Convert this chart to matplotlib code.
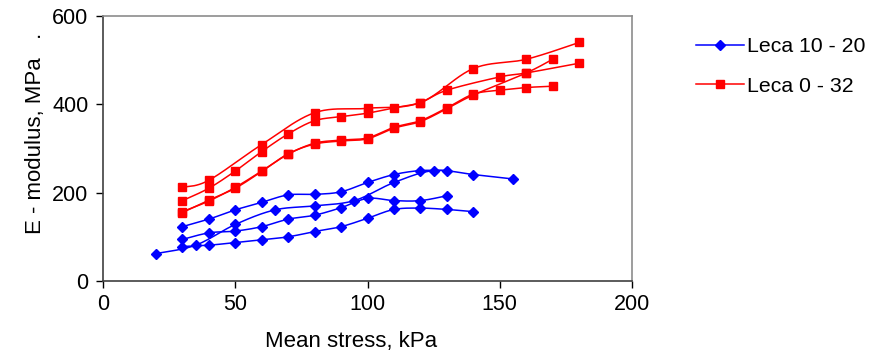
import numpy as np
import matplotlib
matplotlib.use("Agg")
import matplotlib.pyplot as plt
from matplotlib.lines import Line2D

# ---------------- data ----------------
# Leca 10 - 20 (blue)
b1_x = [30, 40, 50, 60, 70, 80, 90, 100, 110, 120, 130]
b1_y = [123, 140, 161, 178, 195, 196, 202, 223, 241, 250, 250]
b2_x = [20, 35, 50, 65, 80, 95, 110, 125, 140, 155]
b2_y = [62, 81, 128, 161, 170, 182, 223, 250, 241, 231]
b3_x = [30, 40, 50, 60, 70, 80, 90, 100, 110, 120, 130]
b3_y = [94, 109, 113, 123, 140, 149, 166, 187, 182, 182, 193]
b4_x = [30, 40, 50, 60, 70, 80, 90, 100, 110, 120, 130, 140]
b4_y = [78, 81, 87, 93, 100, 112, 123, 142, 162, 165, 162, 157]

# Leca 0 - 32 (red)
r1_x = [30, 40, 60, 80, 100, 120, 140, 160, 180]
r1_y = [212, 228, 309, 381, 391, 404, 481, 502, 540]
r2_x = [30, 40, 50, 60, 70, 80, 90, 100, 110, 120, 130, 150, 160, 180]
r2_y = [182, 210, 249, 293, 333, 363, 372, 380, 392, 404, 432, 462, 471, 493]
r3_x = [30, 40, 50, 60, 70, 80, 90, 100, 110, 120, 130, 140, 150, 160, 170]
r3_y = [157, 181, 212, 249, 287, 312, 319, 324, 348, 363, 392, 423, 432, 438, 441]
r4_x = [30, 40, 50, 60, 70, 80, 90, 100, 110, 120, 130, 140, 160, 170]
r4_y = [155, 183, 210, 248, 288, 310, 317, 322, 346, 361, 390, 421, 471, 502]

blue_series = [(b1_x, b1_y), (b2_x, b2_y), (b3_x, b3_y), (b4_x, b4_y)]
red_series = [(r1_x, r1_y), (r2_x, r2_y), (r3_x, r3_y), (r4_x, r4_y)]

labels = ["Leca 10 - 20", "Leca 0 - 32"]
x_ticks = [0, 50, 100, 150, 200]
y_ticks = [0, 200, 400, 600]

BLUE = "#0000FF"
RED = "#FF0000"

plt.rcParams['font.family'] = ['Liberation Sans', 'DejaVu Sans']


def smooth(x, y, n=24):
    """Excel-like smoothed line (Catmull-Rom Bezier) through the data points."""
    p = np.column_stack([np.asarray(x, float), np.asarray(y, float)])
    P = np.vstack([p[0], p, p[-1]])
    out = []
    t = np.linspace(0, 1, n)[:, None]
    for i in range(1, len(P) - 2):
        p0, p1, p2, p3 = P[i - 1], P[i], P[i + 1], P[i + 2]
        c1 = p1 + (p2 - p0) / 6.0
        c2 = p2 - (p3 - p1) / 6.0
        seg = ((1 - t) ** 3) * p1 + 3 * ((1 - t) ** 2) * t * c1 + 3 * (1 - t) * t ** 2 * c2 + t ** 3 * p2
        out.append(seg if i == 1 else seg[1:])
    s = np.vstack(out)
    return s[:, 0], s[:, 1]


fig = plt.figure(figsize=(8.71, 3.53), dpi=100)
ax = fig.add_axes([0.1183, 0.204, 0.6073, 0.7507])

for xs, ys in red_series:
    sx, sy = smooth(xs, ys)
    ax.plot(sx, sy, color=RED, lw=1.1, zorder=2)
    ax.plot(xs, ys, ls='none', marker='s', ms=5.3, color=RED, mec=RED, zorder=3)

for xs, ys in blue_series:
    sx, sy = smooth(xs, ys)
    ax.plot(sx, sy, color=BLUE, lw=1.1, zorder=2)
    ax.plot(xs, ys, ls='none', marker='D', ms=4.6, color=BLUE, mec=BLUE, zorder=3)

ax.set_xlim(0, 200)
ax.set_ylim(0, 600)
ax.set_xticks(x_ticks)
ax.set_yticks(y_ticks)
ax.tick_params(axis='both', direction='out', length=5, width=1, colors='#000000',
               labelsize=15.5, pad=5.5)
ax.tick_params(axis='x', pad=4.5)
for side in ['left', 'bottom']:
    ax.spines[side].set_color('#404040')
    ax.spines[side].set_linewidth(1.2)
for side in ['top', 'right']:
    ax.spines[side].set_color('#8c8c8c')
    ax.spines[side].set_linewidth(1.2)

ax.set_xlabel("Mean stress, kPa", fontsize=16)
ax.set_ylabel("E - modulus, MPa   .", fontsize=16)
ax.xaxis.set_label_coords(0.469, -0.19)
ax.yaxis.set_label_coords(-0.108, 0.558)

handles = [Line2D([], [], color=BLUE, lw=1.1, marker='D', ms=4.6),
           Line2D([], [], color=RED, lw=1.1, marker='s', ms=5.3)]
fig.legend(handles, labels, loc='upper left', bbox_to_anchor=(0.7895, 0.918),
           frameon=False, fontsize=15.3, handlelength=2.25, handletextpad=0.12,
           labelspacing=0.95, borderaxespad=0)

fig.savefig("out.png", dpi=100)
